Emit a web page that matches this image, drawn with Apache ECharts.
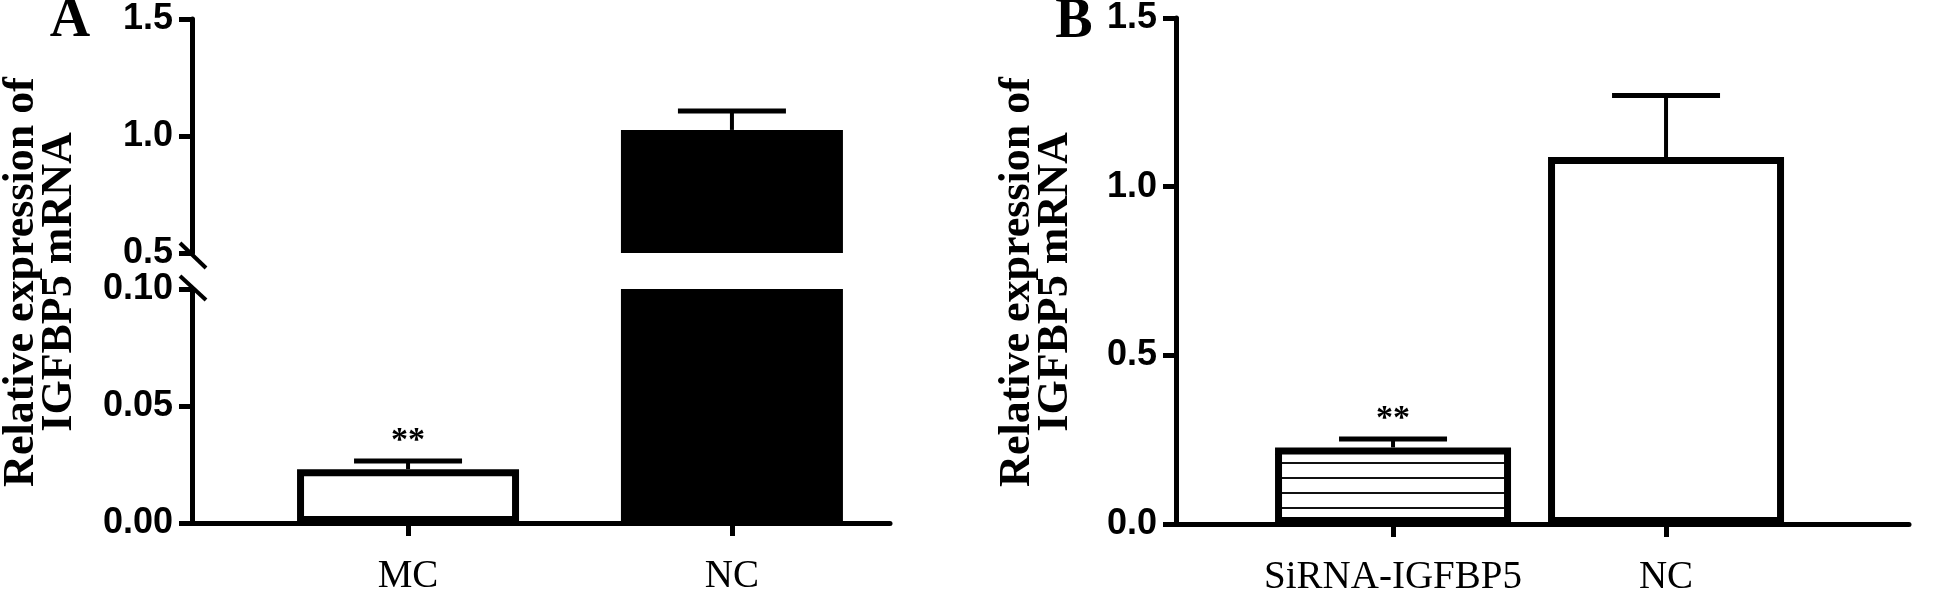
<!DOCTYPE html>
<html>
<head>
<meta charset="utf-8">
<script src="https://cdn.jsdelivr.net/npm/echarts@6/dist/echarts.min.js"></script>
<style>
  html, body { margin: 0; padding: 0; background: #fff; }
  #chart { width: 1946px; height: 597px; }
</style>
</head>
<body>
<div id="chart"></div>
<script>
  // panel A
  const catsA = ['MC', 'NC'];
  const meanA = [0.023, 1.026];
  const errA = [0.0035, 0.081];
  const sigA = ['**', ''];
  // panel B
  const catsB = ['SiRNA-IGFBP5', 'NC'];
  const meanB = [0.227, 1.088];
  const errB = [0.025, 0.182];
  const sigB = ['**', ''];

  const titleLines = ['Relative expression of', 'IGFBP5 mRNA'];

  const tickFont = { color: '#000', fontFamily: '"Liberation Sans", Arial, sans-serif', fontWeight: 'bold', fontSize: 36 };
  const catFont = { color: '#000', fontFamily: '"Liberation Serif", "Times New Roman", serif', fontSize: 39 };
  const axLine = { show: true, onZero: false, lineStyle: { color: '#000', width: 5 } };
  const axTick = { show: true, length: 13, lineStyle: { color: '#000', width: 5 } };

  // horizontal hatch for the siRNA bar
  const hatch = document.createElement('canvas');
  hatch.width = 8;
  hatch.height = 15;
  (function () {
    const ctx = hatch.getContext('2d');
    ctx.fillStyle = '#fff';
    ctx.fillRect(0, 0, 8, 15);
    ctx.fillStyle = '#111';
    ctx.fillRect(0, 12, 8, 2);
  })();

  const styleA = [
    { color: '#fff', borderColor: '#000', borderWidth: 7 },
    { color: '#000' }
  ];
  const styleB = [
    { color: { image: hatch, repeat: 'repeat' }, borderColor: '#000', borderWidth: 7 },
    { color: '#fff', borderColor: '#000', borderWidth: 7 }
  ];

  function xAxisFor(grid, cats, min, max, visible) {
    return {
      gridIndex: grid, type: 'value', min: min, max: max, show: visible,
      axisLine: axLine,
      axisTick: { ...axTick, customValues: [0, 1] },
      axisLabel: {
        customValues: [0, 1], margin: 34, ...catFont,
        formatter: v => cats[Math.round(v)]
      },
      splitLine: { show: false }
    };
  }

  function yAxisFor(grid, min, max, step, digits) {
    return {
      gridIndex: grid, type: 'value', min: min, max: max, interval: step,
      axisLine: axLine,
      axisTick: axTick,
      axisLabel: { margin: 19, ...tickFont, formatter: v => v.toFixed(digits) },
      splitLine: { show: false }
    };
  }

  function barSeries(xi, yi, means, styles, w) {
    return {
      type: 'bar', xAxisIndex: xi, yAxisIndex: yi, barWidth: w, clip: true,
      data: means.map((v, i) => ({ value: [i, v], itemStyle: styles[i] }))
    };
  }

  function errSeries(xi, yi, means, errs, sigs, yMin, yMax) {
    return {
      type: 'custom', xAxisIndex: xi, yAxisIndex: yi,
      data: means.map((v, i) => [i, v, errs[i]]),
      renderItem: function (params, api) {
        const i = params.dataIndex;
        const m = means[i];
        if (m < yMin || m > yMax) return null;
        const base = api.coord([i, m]);
        const top = api.coord([i, m + errs[i]]);
        const kids = [
          { type: 'line', shape: { x1: base[0], y1: base[1], x2: top[0], y2: top[1] }, style: { stroke: '#000', lineWidth: 4 } },
          { type: 'line', shape: { x1: top[0] - 54, y1: top[1], x2: top[0] + 54, y2: top[1] }, style: { stroke: '#000', lineWidth: 5 } }
        ];
        if (sigs[i]) {
          kids.push({
            type: 'text', x: top[0], y: top[1] - 20,
            style: { text: sigs[i], fill: '#000', font: 'bold 34px "Liberation Serif", serif', align: 'center', verticalAlign: 'middle' }
          });
        }
        return { type: 'group', children: kids };
      }
    };
  }

  function yTitle(cx, cy) {
    return {
      type: 'text', x: cx, y: cy, rotation: Math.PI / 2,
      style: {
        text: titleLines.join('\n'), fill: '#000',
        font: 'bold 44px "Liberation Serif", "Times New Roman", serif',
        lineHeight: 38, align: 'center', verticalAlign: 'middle'
      }
    };
  }

  function panelLetter(txt, cx, cy) {
    return {
      type: 'text', x: cx, y: cy,
      style: { text: txt, fill: '#000', font: 'bold 56px "Liberation Serif", serif', align: 'center', verticalAlign: 'middle' }
    };
  }

  const chart = echarts.init(document.getElementById('chart'));
  chart.setOption({
    animation: false,
    backgroundColor: '#fff',
    grid: [
      { left: 192, top: 19, right: 1056, height: 234 },
      { left: 192, top: 289, right: 1056, height: 234 },
      { left: 1176, top: 15, right: 37, height: 512 }
    ],
    xAxis: [
      xAxisFor(0, catsA, -0.667, 1.488, false),
      xAxisFor(1, catsA, -0.667, 1.488, true),
      xAxisFor(2, catsB, -0.795, 1.89, true)
    ],
    yAxis: [
      yAxisFor(0, 0.5, 1.5, 0.5, 1),
      yAxisFor(1, 0, 0.1, 0.05, 2),
      yAxisFor(2, 0, 1.5, 0.5, 1)
    ],
    series: [
      barSeries(0, 0, meanA, styleA, 222),
      barSeries(1, 1, meanA, styleA, 222),
      barSeries(2, 2, meanB, styleB, 236),
      errSeries(0, 0, meanA, errA, sigA, 0.5, 1.5),
      errSeries(1, 1, meanA, errA, sigA, 0, 0.1),
      errSeries(2, 2, meanB, errB, sigB, 0, 1.5)
    ]
  });

  // axis break marks on panel A, placed from the axis scales
  const ax = chart.convertToPixel({ xAxisIndex: 0 }, -0.667);
  const yHi = chart.convertToPixel({ yAxisIndex: 0 }, 0.5);
  const yLo = chart.convertToPixel({ yAxisIndex: 1 }, 0.1);
  const slash = (y0, y1, y2) => ({
    type: 'line', shape: { x1: ax - 12, y1: y0 + y1, x2: ax + 14, y2: y0 + y2 },
    style: { stroke: '#000', lineWidth: 4 }
  });

  chart.setOption({
    graphic: [
      { type: 'rect', shape: { x: ax - 3, y: yHi + 1, width: 6, height: yLo - yHi - 2 }, style: { fill: '#fff' } },
      slash(yHi, -10, 15),
      slash(yLo, -13, 11),
      yTitle(41, 282),
      yTitle(1037, 282),
      panelLetter('A', 70, 22),
      panelLetter('B', 1074, 23)
    ]
  });
</script>
</body>
</html>
